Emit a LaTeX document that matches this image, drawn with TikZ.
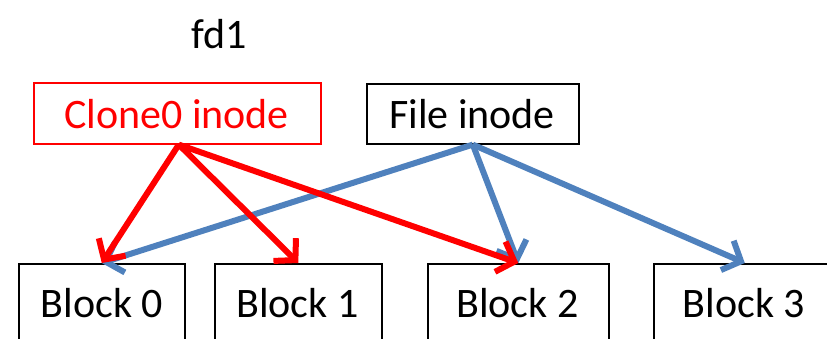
\documentclass[tikz,border=0pt]{standalone}
\usepackage{fontspec}
\setmainfont{Carlito}
\usetikzlibrary{arrows.meta}
\definecolor{linkred}{RGB}{255,0,0}
\definecolor{linkblue}{RGB}{79,129,189}
\tikzset{
  label text/.style={font=\fontsize{42bp}{48bp}\selectfont, inner sep=0pt, anchor=base},
  inodebox/.style={draw=black, line width=1.6bp, rectangle, inner sep=0pt, anchor=north west},
  blockbox/.style={draw=black, line width=1.6bp, rectangle, inner sep=0pt, anchor=north west},
  ptr/.style={line width=6bp, -{Straight Barb[length=15bp,width=32bp]}},
  cloneptr/.style={ptr, draw=linkred},
  fileptr/.style={ptr, draw=linkblue},
}
\begin{document}
\begin{tikzpicture}[x=1bp, y=-1bp]
  \useasboundingbox (0,0) rectangle (827,338);
  \clip (0,0) rectangle (827,338);

  % title
  \node[label text] (title) at (219,48) {fd1};

  % inodes
  \node[inodebox, draw=linkred, minimum width=287bp, minimum height=61bp] (clone) at (33,82) {};
  \node[label text, text=linkred] (clonetxt) at (176.5,128) {Clone0 inode};
  \node[inodebox, minimum width=212bp, minimum height=60bp] (file) at (366,83) {};
  \node[label text] (filetxt) at (472,128) {File inode};

  % data blocks
  \node[blockbox, minimum width=166bp, minimum height=95bp] (b0) at (18,263) {};
  \node[label text] (b0txt) at (102,317) {Block 0};
  \node[blockbox, minimum width=167bp, minimum height=95bp] (b1) at (214,263) {};
  \node[label text] (b1txt) at (297.5,317) {Block 1};
  \node[blockbox, minimum width=181bp, minimum height=95bp] (b2) at (427,263) {};
  \node[label text] (b2txt) at (517.5,317) {Block 2};
  \node[blockbox, minimum width=182bp, minimum height=95bp] (b3) at (653,263) {};
  \node[label text] (b3txt) at (744,317) {Block 3};

  % block pointers of the file inode
  \draw[fileptr] (file.south) -- (b0.north);
  \draw[fileptr] (file.south) -- (b2.north);
  \draw[fileptr] (file.south) -- (b3.north);

  % block pointers of the clone inode
  \draw[cloneptr] ([xshift=1.5bp]clone.south) -- (b0.north);
  \draw[cloneptr] ([xshift=1.5bp]clone.south) -- (b1.north);
  \draw[cloneptr] ([xshift=1.5bp]clone.south) -- (b2.north);
\end{tikzpicture}
\end{document}
